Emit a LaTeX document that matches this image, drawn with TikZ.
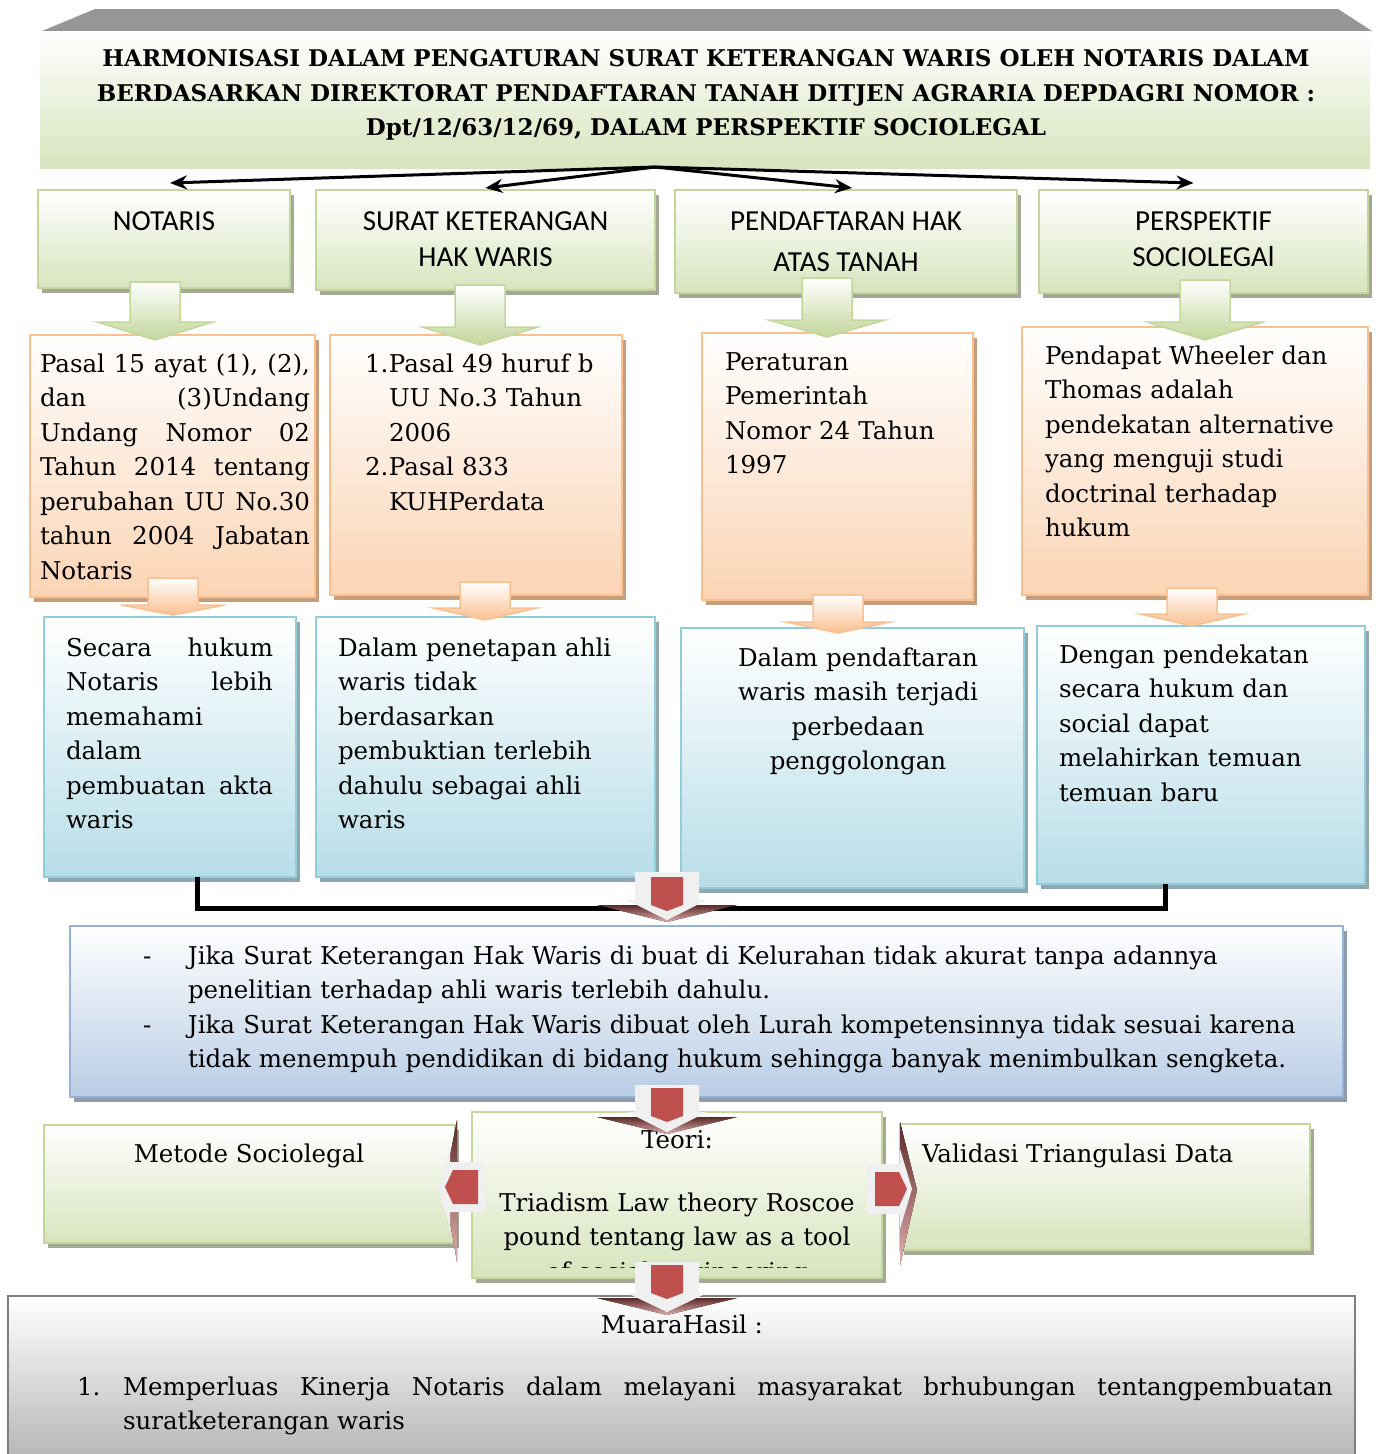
\documentclass[tikz,border=0pt]{standalone}
\usepackage{fontspec}
\setmainfont{DejaVu Serif}
\newfontfamily\capfont{Carlito}
\usetikzlibrary{shadows,calc,arrows.meta}

\definecolor{grnline}{HTML}{C3D69B}
\definecolor{grnfill}{HTML}{D7E4BD}
\definecolor{orgline}{HTML}{FAC090}
\definecolor{orgfill}{HTML}{FBD4B4}
\definecolor{bluline}{HTML}{92CDDC}
\definecolor{blufill}{HTML}{B7DDE8}
\definecolor{sumline}{HTML}{95B3D7}
\definecolor{sumfill}{HTML}{B9CDE5}
\definecolor{redfill}{HTML}{C0504D}
\definecolor{redshade}{HTML}{5A2A28}
\definecolor{roofgray}{HTML}{979797}
\definecolor{shgrn}{HTML}{A4A995}
\definecolor{shorg}{HTML}{C79E7C}
\definecolor{shblu}{HTML}{8FA7AE}
\definecolor{shsum}{HTML}{8D9BAD}

\hyphenpenalty=10000
\tolerance=9999

% block arrow pointing down: [style]{x}{top}{flange}{tip}{half shaft}{half head}
\newcommand{\dnarrow}[7][]{%
  \path[#1] (#2-#6,#3) -- (#2+#6,#3) -- (#2+#6,#4) -- (#2+#7,#4) -- (#2,#5)
    -- (#2-#7,#4) -- (#2-#6,#4) -- cycle;}
% block arrow pointing sideways: [style]{y}{tail}{flange}{tip}{half shaft}{half head}
\newcommand{\sdarrow}[7][]{%
  \path[#1] (#3,#2-#6) -- (#3,#2+#6) -- (#4,#2+#6) -- (#4,#2+#7) -- (#5,#2)
    -- (#4,#2-#7) -- (#4,#2-#6) -- cycle;}

\begin{document}
\begin{tikzpicture}[x=1pt, y=-1pt,
    every node/.style={inner sep=0pt, outer sep=0pt},
    body/.style={font=\fontsize{24.5}{34.5}\selectfont},
    box/.style n args={3}{draw=#1, line width=2.5pt, top color=white, bottom color=#2, anchor=north west,
      drop shadow={shadow xshift=4pt, shadow yshift=-5pt, fill=#3, opacity=1}},
    gbox/.style={box={grnline}{grnfill}{shgrn}},
    obox/.style={box={orgline}{orgfill}{shorg}},
    bbox/.style={box={bluline}{blufill}{shblu}},
    sbox/.style={box={sumline}{sumfill}{shsum}},
    garrow/.style={draw=grnline, line width=1.5pt, top color=white, bottom color=grnline},
    oarrow/.style={draw=orgline, line width=1.5pt, top color=white, bottom color=orgline},
    warrow/.style={fill=black!6},
    rarrow/.style={fill=redfill},
    rshadow/.style={top color=redshade, bottom color=redfill!45},
    tarrow/.style={line width=3pt, -{Stealth[length=17pt, width=14pt]}},
    conn/.style={line width=5pt}]
  \useasboundingbox (0,0) rectangle (1376,1454);

  % roof and title
  \fill[roofgray] (95,9) -- (1338,9) -- (1372,31) -- (42,31) -- cycle;
  \node[anchor=north west, top color=white, bottom color=grnfill, minimum width=1330, minimum height=137] (title) at (40,31) {};
  \node[font=\bfseries\fontsize{23}{34.5}\selectfont, align=center] (title-t) at (706,95)
    {HARMONISASI DALAM PENGATURAN SURAT KETERANGAN WARIS OLEH NOTARIS DALAM\\
     BERDASARKAN DIREKTORAT PENDAFTARAN TANAH DITJEN AGRARIA DEPDAGRI NOMOR :\\
     Dpt/12/63/12/69, DALAM PERSPEKTIF SOCIOLEGAL};

  % header boxes
  \foreach \nm/\x/\w/\h/\lsk/\lbl in {notaris/38/252/98/36/{NOTARIS},
      skhw/316/339/100/36/{SURAT KETERANGAN\\HAK WARIS},
      pht/675/342/103/41/{PENDAFTARAN HAK\\ATAS TANAH},
      psl/1039/329/103/36/{PERSPEKTIF\\SOCIOLEGAl}} {
    \node[gbox, minimum width=\w, minimum height=\h] (\nm) at (\x,190) {};
    \node[font=\capfont\fontsize{29}{\lsk}\selectfont, align=center, anchor=north] (\nm-t) at ($(\nm.north)+(0,22)$) {\lbl};
  }

  % arrows from the title
  \coordinate (hub) at (655,167);
  \foreach \nm/\dx/\dy in {notaris/6/7, skhw/0/2, pht/6/2, psl/-10/7}
    \draw[tarrow] (hub) -- ([xshift=\dx pt, yshift=\dy pt]\nm.north);

  % orange boxes
  \node[obox, minimum width=285, minimum height=262] (pasal) at (30,335) {};
  \node[obox, minimum width=292, minimum height=260] (uu) at (330,335) {};
  \node[obox, minimum width=271, minimum height=267] (pp) at (702,333) {};
  \node[obox, minimum width=346, minimum height=268] (wheeler) at (1022,327) {};

  \node[body, anchor=base west, text width=270pt, align=justify] (pasal-t) at (40,372)
    {Pasal 15 ayat (1), (2),\linebreak dan (3)Undang\linebreak Undang Nomor 02\linebreak Tahun 2014 tentang\linebreak
     perubahan UU No.30\linebreak tahun 2004 Jabatan\linebreak Notaris};
  \node[body, anchor=base west, text width=250pt, align=left] (uu-t) at (365,372)
    {\makebox[24pt][l]{1.}Pasal 49 huruf b\\\hspace*{24pt}UU No.3 Tahun\\\hspace*{24pt}2006\\
     \makebox[24pt][l]{2.}Pasal 833\\\hspace*{24pt}KUHPerdata};
  \node[body, anchor=base west, text width=240pt, align=left] (pp-t) at (725,370)
    {Peraturan\\Pemerintah\\Nomor 24 Tahun\\1997};
  \node[body, anchor=base west, text width=315pt, align=left] (wheeler-t) at (1045,364)
    {Pendapat Wheeler dan\\Thomas adalah\\pendekatan alternative\\yang menguji studi\\doctrinal terhadap\\hukum};

  % blue boxes
  \node[bbox, minimum width=252, minimum height=260] (hk1) at (44,617) {};
  \node[bbox, minimum width=339, minimum height=260] (hk2) at (316,617) {};
  \node[bbox, minimum width=343, minimum height=260] (hk3) at (681,628) {};
  \node[bbox, minimum width=328, minimum height=258] (hk4) at (1037,626) {};

  \node[body, anchor=base west, text width=207pt, align=justify] (hk1-t) at (66,656)
    {Secara hukum\linebreak Notaris lebih\linebreak memahami\\dalam\\pembuatan akta\linebreak waris};
  \node[body, anchor=base west, text width=305pt, align=left] (hk2-t) at (338,656)
    {Dalam penetapan ahli\\waris tidak\\berdasarkan\\pembuktian terlebih\\dahulu sebagai ahli\\waris};
  \node[body, anchor=base, text width=320pt, align=center] (hk3-t) at (858,666)
    {Dalam pendaftaran\\waris masih terjadi\\perbedaan\\penggolongan};
  \node[body, anchor=base west, text width=300pt, align=left] (hk4-t) at (1059,663)
    {Dengan pendekatan\\secara hukum dan\\social dapat\\melahirkan temuan\\temuan baru};

  % block arrows between the rows
  \foreach \x/\yt/\yf/\yb in {155/282/322/340, 480/285/327/345, 827/278/320/337, 1205/280/322/340} {
    \dnarrow[garrow]{\x}{\yt}{\yf}{\yb}{25}{58}
  }
  \foreach \x/\yt/\yf/\yb in {173/578/605/615, 485/582/608/620, 838/595/622/633, 1192/588/614/626} {
    \dnarrow[oarrow]{\x}{\yt}{\yf}{\yb}{25}{52}
  }

  % joining line
  \coordinate (l1) at (197,908);
  \coordinate (l2) at (1165,908);
  \draw[conn] (hk1.south -| l1) -- (l1) -- (l2) -- (hk4.south -| l2);

  % summary
  \node[sbox, minimum width=1273, minimum height=171] (ringkas) at (70,926) {};
  \node[body, anchor=base west, text width=1190pt, align=left] (ringkas-t) at (143,964)
    {\makebox[45pt][l]{-}Jika Surat Keterangan Hak Waris di buat di Kelurahan tidak akurat tanpa adannya\\
     \hspace*{45pt}penelitian terhadap ahli waris terlebih dahulu.\\
     \makebox[45pt][l]{-}Jika Surat Keterangan Hak Waris dibuat oleh Lurah kompetensinnya tidak sesuai karena\\
     \hspace*{45pt}tidak menempuh pendidikan di bidang hukum sehingga banyak menimbulkan sengketa.};

  % bottom row
  \node[gbox, minimum width=411, minimum height=118] (metode) at (44,1125) {};
  \node[gbox, minimum width=410, minimum height=166] (teori) at (472,1112) {};
  \node[gbox, minimum width=410, minimum height=126] (validasi) at (900,1124) {};
  \node[body, anchor=base] (metode-t) at (249,1162) {Metode Sociolegal};
  \node[body, anchor=base west] (validasi-t) at (922,1162) {Validasi Triangulasi Data};
  \node[body, anchor=base] (teori-h) at (677,1148) {Teori:};
  \begin{scope}
    \clip (472,1112) rectangle (882,1267);
    \node[body, anchor=base, text width=400pt, align=center] (teori-t) at (677,1211)
      {Triadism Law theory Roscoe\\pound tentang law as a tool\\of social engineering};
  \end{scope}

  % result box
  \node[anchor=north west, draw=black!50, line width=2.5pt, top color=white, bottom color=black!35,
    minimum width=1347, minimum height=200] (muara) at (8,1296) {};
  \node[body, anchor=base] (muara-h) at (682,1333) {MuaraHasil :};
  \node[body, anchor=base west] (muara-n) at (77,1395) {1.};
  \node[body, anchor=base west, text width=1210pt, align=justify] (muara-t) at (123,1395)
    {Memperluas Kinerja Notaris dalam melayani masyarakat brhubungan tentangpembuatan\linebreak suratketerangan waris};

  % red arrows
  \foreach \x/\yt/\yf/\yb/\ys/\rt in {667/872/900/920/905/877, 667/1085/1112/1132/1117/1088, 667/1262/1293/1312/1298/1265} {
    \fill[rshadow] (\x-70,\ys) -- (\x+70,\ys) -- (\x,\ys+17) -- cycle;
    \dnarrow[warrow]{\x}{\yt}{\yf}{\yb}{32}{40}
    \pgfmathsetmacro\rf{\rt+28}
    \pgfmathsetmacro\rb{\rt+34}
    \dnarrow[rarrow]{\x}{\rt}{\rf}{\rb}{16}{16}
  }
  \fill[rshadow] (457,1120) -- (444,1187) -- (457,1262) -- cycle;
  \sdarrow[warrow]{1187}{485}{450}{438}{25}{40}
  \sdarrow[rarrow]{1187}{478}{453}{445}{17}{17}
  \fill[rshadow] (900,1122) -- (917,1190) -- (900,1266) -- cycle;
  \sdarrow[warrow]{1189}{867}{900}{912}{25}{40}
  \sdarrow[rarrow]{1189}{875}{899}{907}{17}{17}
\end{tikzpicture}
\end{document}
